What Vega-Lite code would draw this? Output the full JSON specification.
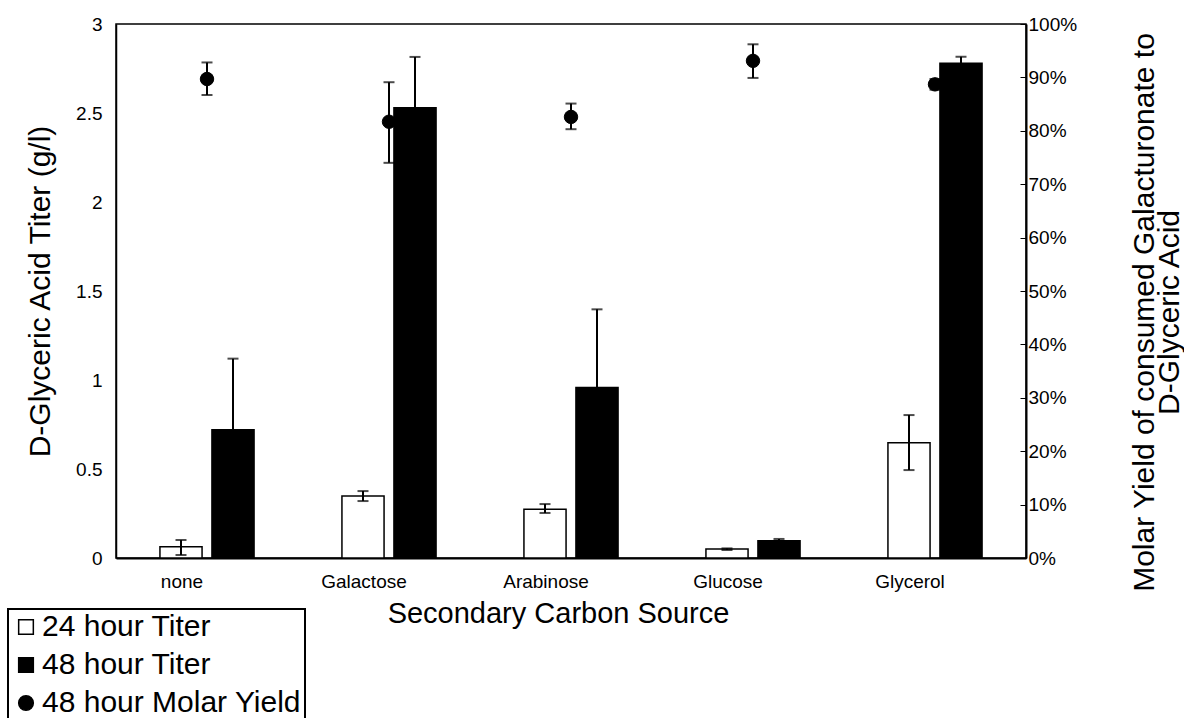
{
  "$schema": "https://vega.github.io/schema/vega-lite/v6.json",
  "autosize": {"type": "none"},
  "padding": {"left": 116, "top": 24, "right": 158, "bottom": 160},
  "width": 910,
  "height": 534,
  "background": "white",
  "config": {
    "font": "Liberation Sans",
    "view": {"stroke": "black", "strokeWidth": 1.5},
    "axis": {
      "grid": false,
      "labelColor": "black",
      "titleColor": "black",
      "domainColor": "black",
      "tickColor": "black",
      "labelFont": "Liberation Sans",
      "titleFont": "Liberation Sans",
      "labelFontSize": 19,
      "titleFontSize": 30,
      "titleFontWeight": "normal"
    },
    "legend": {"labelFont": "Liberation Sans"}
  },
  "datasets": {
    "titer": [
      {"source": "none", "series": "24 hour Titer", "value": 0.063, "lo": 0.017, "hi": 0.101},
      {"source": "none", "series": "48 hour Titer", "value": 0.72, "lo": 0.32, "hi": 1.12},
      {"source": "Galactose", "series": "24 hour Titer", "value": 0.348, "lo": 0.32, "hi": 0.376},
      {"source": "Galactose", "series": "48 hour Titer", "value": 2.53, "lo": 2.25, "hi": 2.815},
      {"source": "Arabinose", "series": "24 hour Titer", "value": 0.274, "lo": 0.253, "hi": 0.303},
      {"source": "Arabinose", "series": "48 hour Titer", "value": 0.958, "lo": 0.52, "hi": 1.397},
      {"source": "Glucose", "series": "24 hour Titer", "value": 0.05, "lo": 0.045, "hi": 0.054},
      {"source": "Glucose", "series": "48 hour Titer", "value": 0.097, "lo": 0.088, "hi": 0.107},
      {"source": "Glycerol", "series": "24 hour Titer", "value": 0.648, "lo": 0.494, "hi": 0.803},
      {"source": "Glycerol", "series": "48 hour Titer", "value": 2.78, "lo": 2.745, "hi": 2.816}
    ],
    "yield": [
      {"source": "none", "series": "48 hour Molar Yield", "value": 0.897, "lo": 0.867, "hi": 0.928},
      {"source": "Galactose", "series": "48 hour Molar Yield", "value": 0.817, "lo": 0.74, "hi": 0.891},
      {"source": "Arabinose", "series": "48 hour Molar Yield", "value": 0.826, "lo": 0.803, "hi": 0.851},
      {"source": "Glucose", "series": "48 hour Molar Yield", "value": 0.931, "lo": 0.899, "hi": 0.962},
      {"source": "Glycerol", "series": "48 hour Molar Yield", "value": 0.887, "lo": 0.877, "hi": 0.897}
    ]
  },
  "layer": [
    {
      "data": {"name": "yield"},
      "encoding": {
        "x": {
          "field": "source",
          "type": "nominal",
          "sort": ["none", "Galactose", "Arabinose", "Glucose", "Glycerol"],
          "scale": {"paddingInner": 0, "paddingOuter": 0},
          "axis": {
            "title": "Secondary Carbon Source",
            "titleFontSize": 29,
            "labelAngle": 0,
            "labelOffset": -25,
            "ticks": false,
            "labelPadding": 14,
            "domainWidth": 2,
            "titlePadding": 8,
            "titleX": 442
          }
        }
      },
      "layer": [
        {
          "mark": {"type": "rule", "color": "black", "strokeWidth": 2},
          "encoding": {
            "y": {"field": "lo", "type": "quantitative", "scale": {"domain": [0, 1]},
              "axis": {"orient": "right", "title": ["Molar Yield of consumed Galacturonate to", "D-Glyceric Acid"], "values": [0, 0.1, 0.2, 0.3, 0.4, 0.5, 0.6, 0.7, 0.8, 0.9, 1], "format": ".0%", "tickSize": -6, "labelPadding": 8, "domainWidth": 2, "titleAngle": 270, "titlePadding": 58, "titleLineHeight": 25, "titleY": 288}},
            "y2": {"field": "hi"}
          }
        },
        {
          "mark": {"type": "tick", "color": "black", "size": 11, "thickness": 2},
          "encoding": {
            "y": {"field": "hi", "type": "quantitative", "scale": {"domain": [0, 1]},
              "axis": {"orient": "right", "title": ["Molar Yield of consumed Galacturonate to", "D-Glyceric Acid"], "values": [0, 0.1, 0.2, 0.3, 0.4, 0.5, 0.6, 0.7, 0.8, 0.9, 1], "format": ".0%", "tickSize": -6, "labelPadding": 8, "domainWidth": 2, "titleAngle": 270, "titlePadding": 58, "titleLineHeight": 25, "titleY": 288}}
          }
        },
        {
          "mark": {"type": "tick", "color": "black", "size": 11, "thickness": 2},
          "encoding": {
            "y": {"field": "lo", "type": "quantitative", "scale": {"domain": [0, 1]},
              "axis": {"orient": "right", "title": ["Molar Yield of consumed Galacturonate to", "D-Glyceric Acid"], "values": [0, 0.1, 0.2, 0.3, 0.4, 0.5, 0.6, 0.7, 0.8, 0.9, 1], "format": ".0%", "tickSize": -6, "labelPadding": 8, "domainWidth": 2, "titleAngle": 270, "titlePadding": 58, "titleLineHeight": 25, "titleY": 288}}
          }
        },
        {
          "mark": {"type": "point", "filled": true, "size": 180, "opacity": 1, "stroke": "black", "strokeWidth": 1},
          "encoding": {
            "y": {"field": "value", "type": "quantitative", "scale": {"domain": [0, 1]},
              "axis": {"orient": "right", "title": ["Molar Yield of consumed Galacturonate to", "D-Glyceric Acid"], "values": [0, 0.1, 0.2, 0.3, 0.4, 0.5, 0.6, 0.7, 0.8, 0.9, 1], "format": ".0%", "tickSize": -6, "labelPadding": 8, "domainWidth": 2, "titleAngle": 270, "titlePadding": 58, "titleLineHeight": 25, "titleY": 288}},
            "fill": {"field": "series", "type": "nominal",
              "scale": {"domain": ["24 hour Titer", "48 hour Titer", "48 hour Molar Yield"], "range": ["white", "black", "black"]},
              "legend": {"title": null, "orient": "none", "legendX": -108, "legendY": 585, "strokeColor": "black", "fillColor": "white", "padding": 3, "labelFontSize": 30, "labelColor": "black", "labelLimit": 600, "symbolSize": 215, "symbolStrokeColor": "black", "symbolStrokeWidth": 1.5, "rowPadding": 8, "labelOffset": 1,
                "encode": {"symbols": {"update": {"stroke": {"value": "black"}, "strokeWidth": {"value": 1.5}}}, "legend": {"update": {"strokeWidth": {"value": 2}}}}}},
            "shape": {"field": "series", "type": "nominal",
              "scale": {"domain": ["24 hour Titer", "48 hour Titer", "48 hour Molar Yield"], "range": ["square", "square", "circle"]},
              "legend": {"title": null, "orient": "none", "legendX": -108, "legendY": 585, "strokeColor": "black", "fillColor": "white", "padding": 3, "labelFontSize": 30, "labelColor": "black", "labelLimit": 600, "symbolSize": 215, "symbolStrokeColor": "black", "symbolStrokeWidth": 1.5, "rowPadding": 8, "labelOffset": 1,
                "encode": {"symbols": {"update": {"stroke": {"value": "black"}, "strokeWidth": {"value": 1.5}}}, "legend": {"update": {"strokeWidth": {"value": 2}}}}}}
          }
        }
      ]
    },
    {
      "data": {"name": "titer"},
      "encoding": {
        "x": {
          "field": "source",
          "type": "nominal",
          "sort": ["none", "Galactose", "Arabinose", "Glucose", "Glycerol"],
          "scale": {"paddingInner": 0, "paddingOuter": 0},
          "axis": {
            "title": "Secondary Carbon Source",
            "titleFontSize": 29,
            "labelAngle": 0,
            "labelOffset": -25,
            "ticks": false,
            "labelPadding": 14,
            "domainWidth": 2,
            "titlePadding": 8,
            "titleX": 442
          }
        },
        "xOffset": {
          "field": "series",
          "type": "nominal",
          "sort": ["24 hour Titer", "48 hour Titer"],
          "scale": {"paddingInner": 0.19, "paddingOuter": 0.845}
        }
      },
      "layer": [
        {
          "mark": {"type": "bar", "stroke": "black", "strokeWidth": 1.5},
          "encoding": {
            "y": {"field": "value", "type": "quantitative", "scale": {"domain": [0, 3]},
              "axis": {"title": "D-Glyceric Acid Titer (g/l)", "values": [0, 0.5, 1, 1.5, 2, 2.5, 3], "format": "~g", "ticks": false, "labelPadding": 14, "domainWidth": 1.5, "titlePadding": 20}},
            "fill": {"field": "series", "type": "nominal",
              "scale": {"domain": ["24 hour Titer", "48 hour Titer", "48 hour Molar Yield"], "range": ["white", "black", "black"]},
              "legend": {"title": null, "orient": "none", "legendX": -108, "legendY": 585, "strokeColor": "black", "fillColor": "white", "padding": 3, "labelFontSize": 30, "labelColor": "black", "labelLimit": 600, "symbolSize": 215, "symbolStrokeColor": "black", "symbolStrokeWidth": 1.5, "rowPadding": 8, "labelOffset": 1,
                "encode": {"symbols": {"update": {"stroke": {"value": "black"}, "strokeWidth": {"value": 1.5}}}, "legend": {"update": {"strokeWidth": {"value": 2}}}}}}
          }
        },
        {
          "mark": {"type": "rule", "color": "black", "strokeWidth": 2},
          "encoding": {
            "y": {"field": "lo", "type": "quantitative", "scale": {"domain": [0, 3]},
              "axis": {"title": "D-Glyceric Acid Titer (g/l)", "values": [0, 0.5, 1, 1.5, 2, 2.5, 3], "format": "~g", "ticks": false, "labelPadding": 14, "domainWidth": 1.5, "titlePadding": 20}},
            "y2": {"field": "hi"}
          }
        },
        {
          "mark": {"type": "tick", "color": "black", "size": 11, "thickness": 2},
          "encoding": {
            "y": {"field": "hi", "type": "quantitative", "scale": {"domain": [0, 3]},
              "axis": {"title": "D-Glyceric Acid Titer (g/l)", "values": [0, 0.5, 1, 1.5, 2, 2.5, 3], "format": "~g", "ticks": false, "labelPadding": 14, "domainWidth": 1.5, "titlePadding": 20}}
          }
        },
        {
          "mark": {"type": "tick", "color": "black", "size": 11, "thickness": 2},
          "encoding": {
            "y": {"field": "lo", "type": "quantitative", "scale": {"domain": [0, 3]},
              "axis": {"title": "D-Glyceric Acid Titer (g/l)", "values": [0, 0.5, 1, 1.5, 2, 2.5, 3], "format": "~g", "ticks": false, "labelPadding": 14, "domainWidth": 1.5, "titlePadding": 20}}
          }
        }
      ]
    }
  ],
  "resolve": {"scale": {"y": "independent"}}
}
